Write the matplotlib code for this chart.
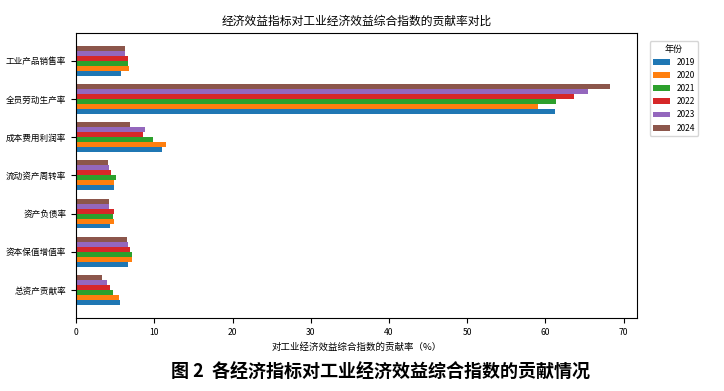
import numpy as np
import matplotlib
matplotlib.use("Agg")
import matplotlib.pyplot as plt

plt.rcParams['font.family'] = ['Noto Sans CJK SC', 'DejaVu Sans']
plt.rcParams['axes.unicode_minus'] = False

indicators = ["总资产贡献率", "资本保值增值率", "资产负债率", "流动资产周转率",
              "成本费用利润率", "全员劳动生产率", "工业产品销售率"]
years = ["2019", "2020", "2021", "2022", "2023", "2024"]

# contribution rate (%) per year, same order as indicators
v2019 = [5.6, 6.6, 4.4, 4.9, 11.0, 61.2, 5.8]
v2020 = [5.5, 7.1, 4.8, 4.9, 11.5, 59.0, 6.8]
v2021 = [4.7, 7.1, 4.7, 5.1, 9.8, 61.4, 6.6]
v2022 = [4.3, 6.9, 4.8, 4.5, 8.6, 63.7, 6.7]
v2023 = [4.0, 6.7, 4.2, 4.2, 8.8, 65.5, 6.2]
v2024 = [3.3, 6.5, 4.2, 4.1, 6.9, 68.3, 6.3]
series = [v2019, v2020, v2021, v2022, v2023, v2024]

fig = plt.figure(figsize=(7.24, 3.91), dpi=100)
ax = fig.add_axes([0.105, 0.187, 0.775, 0.729])

y = np.arange(len(indicators))
h = 0.13
for j, (yr, vals) in enumerate(zip(years, series)):
    ax.barh(y + (j - 2.5) * h, vals, height=h, label=yr)

ax.set_yticks(y)
ax.set_yticklabels(indicators, fontsize=6.2)
ax.set_xticks(np.arange(0, 71, 10))
ax.tick_params(axis="x", labelsize=6.2)
ax.set_xlabel("对工业经济效益综合指数的贡献率（%）", fontsize=6.8)
ax.set_title("经济效益指标对工业经济效益综合指数的贡献率对比", fontsize=8.5, pad=6)
ax.legend(title="年份", fontsize=6, title_fontsize=6.5,
          loc="upper left", bbox_to_anchor=(1.015, 0.985))

fig.text(0.525, 0.048, "图 2  各经济指标对工业经济效益综合指数的贡献情况",
         ha="center", va="center", fontsize=13, fontweight="bold")

fig.savefig("out.png", dpi=100)
